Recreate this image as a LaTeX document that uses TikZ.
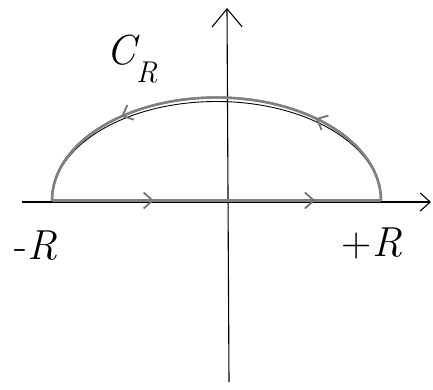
\documentclass[tikz,border=0pt]{standalone}
\usepackage{fontspec}
\usetikzlibrary{arrows.meta,decorations.markings}
\begin{document}
\begin{tikzpicture}[x=1pt,y=1pt,
  axis/.style={line width=1.1pt,black},
  contour/.style={line width=2.4pt,black!50},
  flowtip/.style={decoration={markings,mark=at position #1 with {\arrow[black!55,line width=1.8pt]{Straight Barb[length=9pt,width=16pt]}}},postaction={decorate}},
  lbl/.style={inner sep=0pt,font=\fontsize{42}{42}\selectfont}]
\useasboundingbox (0,0) rectangle (433,389);
% axes
\coordinate (xl) at (22,187);
\coordinate (xr) at (431,187);
\coordinate (yb) at (229,7);
\coordinate (yt) at (227,381);
\draw[axis,-{Straight Barb[length=10pt,width=18pt,line width=1.1pt]}] (xl) -- (xr);
\draw[axis,-{Straight Barb[length=18pt,width=30pt,line width=1.1pt]}] (yb) -- (yt);
% contour
\coordinate (mR) at (52,188.5);
\coordinate (pR) at (381,188.5);
\draw[contour,flowtip=0.31] (mR) -- (pR);
\draw[contour,flowtip=0.8] (mR) -- (pR);
\draw[line width=0.9pt,black] (pR) arc[start angle=0,end angle=180,x radius=164.5,y radius=99];
\draw[contour,flowtip=0.26] (pR) arc[start angle=0,end angle=180,x radius=164.5,y radius=103];
\draw[contour,flowtip=0.73] (pR) arc[start angle=0,end angle=180,x radius=164.5,y radius=103];
% labels
\node[lbl] (cr) at (132,330) {\itshape C\raisebox{-0.42em}{\fontsize{30}{30}\selectfont R}};
\node[lbl] (ml) at (36,143) {-\itshape R};
\node[lbl] (pl) at (372,146) {+\itshape R};
\end{tikzpicture}
\end{document}
